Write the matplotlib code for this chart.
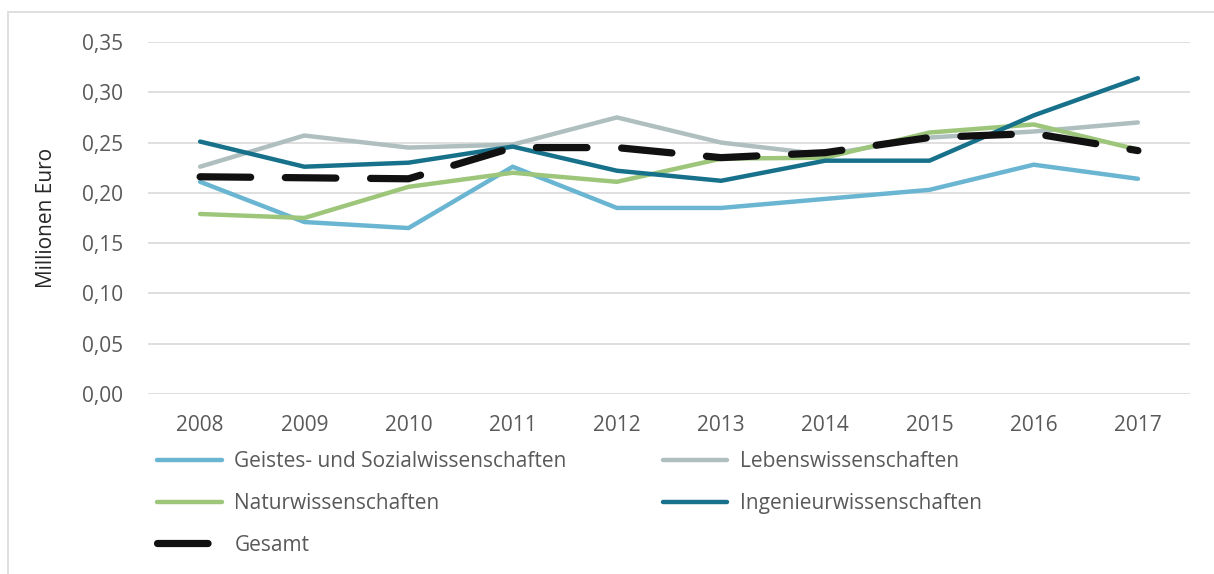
import matplotlib.pyplot as plt
from matplotlib.patches import Rectangle

plt.rcParams['font.family'] = ['Open Sans', 'DejaVu Sans']

years = ['2008', '2009', '2010', '2011', '2012', '2013', '2014', '2015', '2016', '2017']
geistes = [0.211, 0.171, 0.165, 0.226, 0.185, 0.185, 0.194, 0.203, 0.228, 0.214]
lebens = [0.226, 0.257, 0.245, 0.248, 0.275, 0.250, 0.238, 0.255, 0.261, 0.270]
natur = [0.179, 0.175, 0.206, 0.220, 0.211, 0.234, 0.235, 0.260, 0.268, 0.243]
ingenieur = [0.251, 0.226, 0.230, 0.246, 0.222, 0.212, 0.232, 0.232, 0.277, 0.314]
gesamt = [0.216, 0.215, 0.214, 0.245, 0.245, 0.235, 0.240, 0.255, 0.259, 0.242]
yticks = [0.00, 0.05, 0.10, 0.15, 0.20, 0.25, 0.30, 0.35]

fig = plt.figure(figsize=(12.14, 5.74), dpi=100)
fig.patches.append(Rectangle((8 / 1214, -0.01), 1.2, 1 - 12 / 574 + 0.01,
                             transform=fig.transFigure, fill=False,
                             edgecolor='#d9d9d9', linewidth=1.2))
ax = fig.add_axes([148 / 1214, 1 - 394 / 574, (1190 - 148) / 1214, (394 - 42) / 574])

x = range(len(years))
lw = 3.2
l1, = ax.plot(x, geistes, color='#6ab6d2', lw=lw, solid_capstyle='round', label='Geistes- und Sozialwissenschaften')
l2, = ax.plot(x, lebens, color='#afbfbf', lw=lw, solid_capstyle='round', label='Lebenswissenschaften')
l3, = ax.plot(x, natur, color='#9dc67a', lw=lw, solid_capstyle='round', label='Naturwissenschaften')
l4, = ax.plot(x, ingenieur, color='#17718b', lw=lw, solid_capstyle='round', label='Ingenieurwissenschaften')
l5, = ax.plot(x, gesamt, color='#111111', lw=5.2, dashes=(7, 4.8), dash_capstyle='round', label='Gesamt')

ax.set_xlim(-0.5, len(years) - 0.5)
ax.set_ylim(0, 0.35)
ax.set_xticks(list(x))
ax.set_xticklabels(years)
ax.set_yticks(yticks)
ax.set_yticklabels([('%.2f' % v).replace('.', ',') for v in yticks])
ax.tick_params(length=0, labelsize=15, labelcolor='#595959')
ax.tick_params(axis='y', pad=18)
ax.tick_params(axis='x', pad=15)
ax.grid(axis='y', color='#d9d9d9', lw=1.2)
ax.set_axisbelow(True)
for s in ax.spines.values():
    s.set_visible(False)
ax.set_ylabel('Millionen Euro', fontsize=15, color='#262626', labelpad=18)

leg = fig.legend([l1, l3, l5, l2, l4],
                 [l.get_label() for l in [l1, l3, l5, l2, l4]],
                 ncol=2, loc='upper left', bbox_to_anchor=(157 / 1214, 1 - 451 / 574),
                 frameon=False, fontsize=15, labelcolor='#595959',
                 handlelength=3.1, handletextpad=0.62, labelspacing=1.0,
                 columnspacing=4.6, borderaxespad=0, borderpad=0)

fig.savefig('out.png', dpi=100)
